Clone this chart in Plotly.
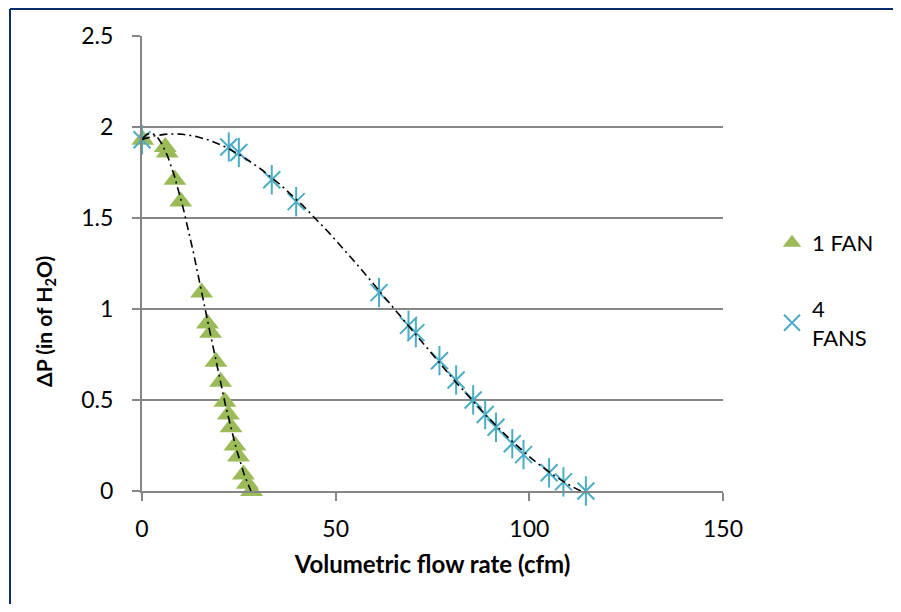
import numpy as np
import plotly.graph_objects as go

# ---- data ----
flow_1fan = [0.2, 6.0, 6.5, 8.5, 10.0, 15.4, 16.9, 17.7, 19.1, 20.3, 21.4, 22.3, 23.0, 24.0, 24.9, 26.2, 27.2, 28.3]
dp_1fan = [1.93, 1.89, 1.86, 1.71, 1.59, 1.09, 0.92, 0.87, 0.71, 0.60, 0.49, 0.42, 0.35, 0.25, 0.19, 0.09, 0.04, 0.00]

flow_4fans = [0.0, 22.4, 25.0, 33.5, 39.8, 61.2, 68.8, 70.7, 76.8, 81.1, 85.5, 88.6, 91.4, 95.6, 98.5, 105.1, 108.8, 114.6]
dp_4fans = [1.93, 1.89, 1.86, 1.71, 1.59, 1.09, 0.91, 0.87, 0.716, 0.61, 0.50, 0.42, 0.35, 0.26, 0.20, 0.10, 0.05, 0.00]

x_ticks = [0, 50, 100, 150]
y_ticks = [0, 0.5, 1, 1.5, 2, 2.5]
y_tick_text = ["0", "0.5", "1", "1.5", "2", "2.5"]

FONT = "Lato"
GREEN = "#9BBB59"
BLUE = "#4BACC6"
GRID = "#868686"
BORDER = "#0F2D6E"


def poly_trend(x, y, order=3, n=200):
    c = np.polyfit(x, y, order)
    xs = np.linspace(min(x), max(x), n)
    return xs, np.polyval(c, xs)


fig = go.Figure()

tx1, ty1 = poly_trend(flow_1fan, dp_1fan)
tx4, ty4 = poly_trend(flow_4fans, dp_4fans)

fig.add_trace(go.Scatter(x=flow_1fan, y=dp_1fan, mode="markers", name="1 FAN",
                         legendgroup="a",
                         marker=dict(symbol="triangle-up", size=20, color=GREEN),
                         cliponaxis=False))
fig.add_trace(go.Scatter(x=flow_4fans, y=dp_4fans, mode="markers", name="4<br>FANS",
                         legendgroup="b",
                         marker=dict(symbol="x-thin-open", size=17, color=BLUE,
                                     line=dict(color=BLUE, width=2)),
                         cliponaxis=False))
fig.add_trace(go.Scatter(x=flow_4fans, y=dp_4fans, mode="markers", showlegend=False,
                         legendgroup="b",
                         marker=dict(symbol="line-ns-open", size=21, color=BLUE,
                                     line=dict(color=BLUE, width=2)),
                         cliponaxis=False))
fig.add_trace(go.Scatter(x=tx1, y=ty1, mode="lines", showlegend=False,
                         line=dict(color="black", width=1.6, dash="8px,4px,2px,4px"),
                         cliponaxis=False))
fig.add_trace(go.Scatter(x=tx4, y=ty4, mode="lines", showlegend=False,
                         line=dict(color="black", width=1.6, dash="8px,4px,2px,4px"),
                         cliponaxis=False))

# the page adds an 8px body margin, so the figure is offset by 8px
OFF = 8
W, H = 901 - 2 * OFF, 612 - 2 * OFF
L, T = 142 - OFF, 36 - OFF
pw, ph = 581, 455
R, B = W - L - pw, H - T - ph


def px_x(px):  # absolute page x pixel -> paper x
    return (px - OFF - L) / pw


def px_y(py):  # absolute page y pixel -> paper y
    return (ph - (py - OFF - T)) / ph


fig.update_layout(
    width=W, height=H,
    margin=dict(l=L, r=R, t=T, b=B, autoexpand=False),
    paper_bgcolor="white", plot_bgcolor="white",
    font=dict(family=FONT, size=23, color="black"),
    legend=dict(x=px_x(772), y=px_y(222),
                xanchor="left", yanchor="top",
                font=dict(family=FONT, size=22, color="black"),
                traceorder="grouped", tracegroupgap=34, bgcolor="rgba(0,0,0,0)"),
    xaxis=dict(range=[0, 150], tickvals=x_ticks, showgrid=False, zeroline=False,
               showline=True, linecolor=GRID, linewidth=2,
               ticks="outside", ticklen=8, tickwidth=2, tickcolor=GRID,
               ticklabelstandoff=8, tickfont=dict(size=23),
               title=dict(text="<b>Volumetric flow rate (cfm)</b>", standoff=16,
                          font=dict(family=FONT, size=24))),
    yaxis=dict(range=[0, 2.5], tickvals=y_ticks, ticktext=y_tick_text,
               showgrid=True, gridcolor=GRID, gridwidth=2, zeroline=False,
               showline=True, linecolor=GRID, linewidth=2,
               ticks="outside", ticklen=8, tickwidth=2, tickcolor=GRID,
               ticklabelstandoff=14, tickfont=dict(size=23)),
    annotations=[dict(text="<b>ΔP (in of H<sub>2</sub>O)</b>", textangle=-90,
                      xref="paper", yref="paper", x=px_x(45), y=px_y(322),
                      xanchor="center", yanchor="middle", showarrow=False,
                      font=dict(family=FONT, size=21, color="black"))],
    shapes=[
        dict(type="line", xref="paper", yref="paper",
             x0=px_x(10), x1=px_x(960), y0=(ph + T - 1) / ph, y1=(ph + T - 1) / ph,
             line=dict(color=BORDER, width=2), layer="above"),
        dict(type="line", xref="paper", yref="paper",
             x0=px_x(10), x1=px_x(10), y0=(ph + T - 1) / ph, y1=px_y(700),
             line=dict(color=BORDER, width=2), layer="above"),
    ],
)

fig.write_html("out.html")
